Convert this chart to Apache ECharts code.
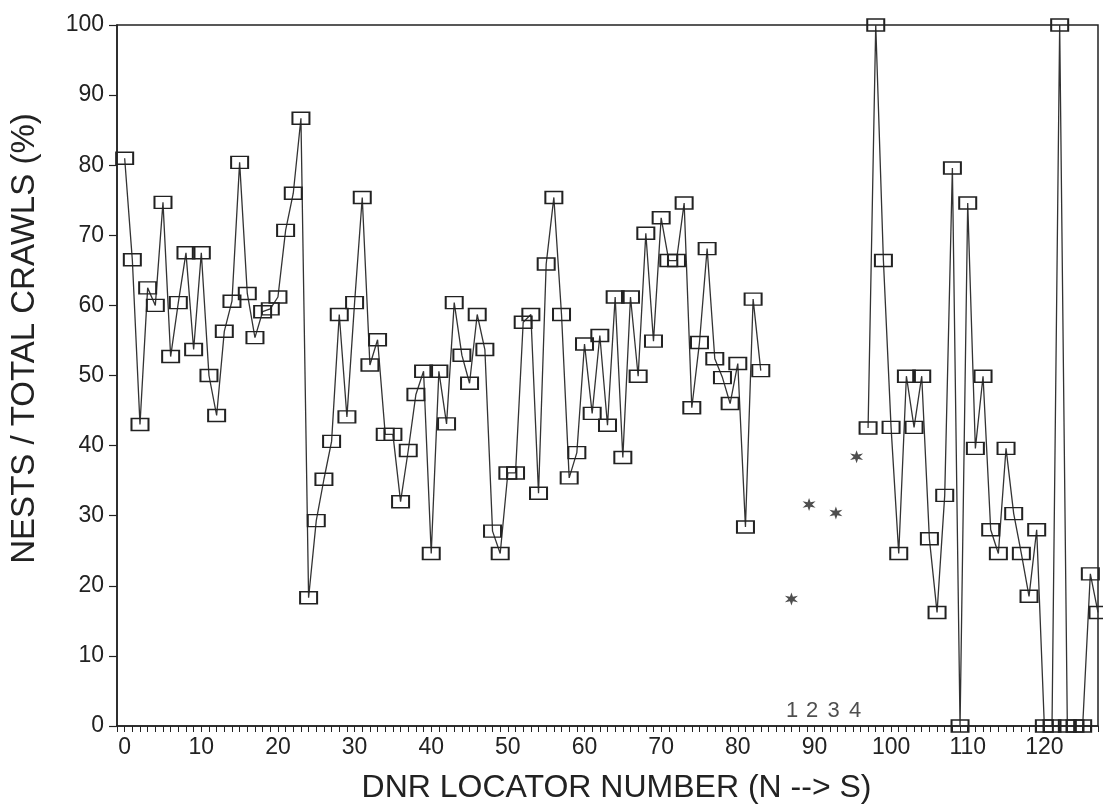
<!DOCTYPE html>
<html>
<head>
<meta charset="utf-8">
<script src="https://cdn.jsdelivr.net/npm/echarts@6/dist/echarts.min.js"></script>
<style>
html,body{margin:0;padding:0;background:#fff;}
#chart{width:1103px;height:809px;}
</style>
</head>
<body>
<div id="chart"></div>
<script>
// ---- data ----
const northLoc = [0,1,2,3,4,5,6,7,8,9,10,11,12,13,14,15,16,17,18,19,20,21,22,23,24,25,26,27,28,29,30,31,32,33,34,35,36,37,38,39,40,41,42,43,44,45,46,47,48,49,50,51,52,53,54,55,56,57,58,59,60,61,62,63,64,65,66,67,68,69,70,71,72,73,74,75,76,77,78,79,80,81,82,83];
const northPct = [81.0,66.5,43.0,62.5,60.0,74.7,52.7,60.4,67.5,53.7,
                  67.5,50.0,44.3,56.3,60.6,80.4,61.7,55.4,59.1,59.5,
                  61.2,70.7,76.0,86.7,18.3,29.3,35.2,40.6,58.7,44.1,
                  60.4,75.4,51.5,55.1,41.6,41.6,32.0,39.3,47.3,50.6,
                  24.6,50.6,43.1,60.4,52.9,48.9,58.7,53.7,27.8,24.6,
                  36.1,36.1,57.6,58.7,33.2,65.9,75.4,58.7,35.4,39.0,
                  54.5,44.6,55.7,42.9,61.2,38.3,61.2,49.9,70.3,54.9,
                  72.5,66.4,66.4,74.6,45.4,54.7,68.1,52.4,49.7,46.0,
                  51.7,28.4,60.9,50.7];
const southLoc = [97,98,99,100,101,102,103,104,105,106,107,108,109,110,111,112,113,114,115,116,117,118,119,120,121,122,123,124,125,126,127];
const southPct = [42.5,100,66.4,42.6,24.6,49.9,42.6,49.9,26.7,16.2,
                  32.9,79.6,0,74.6,39.6,49.9,28.0,24.6,39.6,30.3,
                  24.6,18.5,28.0,0,0,100,0,0,0,21.7,16.2];
const starLoc = [87, 89.3, 92.8, 95.5];
const starPct = [18.1, 31.6, 30.4, 38.4];
const noteLoc = [87.1, 89.7, 92.5, 95.3];
const noteText = ['1', '2', '3', '4'];
const xTickLabels = [0,10,20,30,40,50,60,70,80,90,100,110,120];
const yTickLabels = [0,10,20,30,40,50,60,70,80,90,100];
const xTitle = 'DNR LOCATOR NUMBER (N --> S)';
const yTitle = 'NESTS / TOTAL CRAWLS (%)';

// ---- chart ----
const ink = '#222';
const font = 'Liberation Sans, Arial, Helvetica, sans-serif';
const pairs = (xs, ys) => xs.map((x, i) => [x, ys[i]]);
const boxSym = 'rect';
const starSym = 'path://M0 -10L2 -3.46L8.66 -5L4 0L8.66 5L2 3.46L0 10L-2 3.46L-8.66 5L-4 0L-8.66 -5L-2 -3.46Z';

const lineStyle = {color: '#333', width: 1.3};
const boxStyle = {color: 'rgba(255,255,255,0)', borderColor: ink, borderWidth: 1.7};

const chart = echarts.init(document.getElementById('chart'), null, {renderer: 'canvas'});
chart.setOption({
  backgroundColor: '#fff',
  animation: false,
  grid: {left: 114, right: 5, top: 25, bottom: 82, show: true, borderColor: ink, borderWidth: 1.5, backgroundColor: 'transparent'},
  xAxis: {
    type: 'value', min: -1, max: 127, interval: 1,
    name: xTitle, nameLocation: 'middle', nameGap: 46,
    nameTextStyle: {fontFamily: font, fontSize: 32, color: ink, padding: [0, 0, 0, 18]},
    axisLine: {show: true, onZero: false, lineStyle: {color: ink, width: 1.5}},
    axisTick: {show: true, inside: false, length: 6, lineStyle: {color: ink, width: 1}},
    axisLabel: {
      margin: 10, fontFamily: font, fontSize: 23, color: ink,
      formatter: v => (xTickLabels.indexOf(v) >= 0 ? String(v) : '')
    },
    splitLine: {show: false}
  },
  yAxis: {
    type: 'value', min: 0, max: 100, interval: 10,
    name: yTitle, nameLocation: 'middle', nameGap: 76, nameRotate: 90,
    nameTextStyle: {fontFamily: font, fontSize: 33, color: ink, padding: [0, 0, 0, 74]},
    axisLine: {show: true, onZero: false, lineStyle: {color: ink, width: 1.5}},
    axisTick: {show: true, inside: false, length: 8, lineStyle: {color: ink, width: 1.2}},
    axisLabel: {
      margin: 13, fontFamily: font, fontSize: 23, color: ink,
      formatter: v => (yTickLabels.indexOf(v) >= 0 ? String(v) : '')
    },
    splitLine: {show: false}
  },
  series: [
    {
      type: 'line', data: pairs(northLoc, northPct),
      symbol: boxSym, symbolSize: [17, 12], showAllSymbol: true,
      lineStyle: lineStyle, itemStyle: boxStyle, clip: false, z: 3
    },
    {
      type: 'line', data: pairs(southLoc, southPct),
      symbol: boxSym, symbolSize: [17, 12], showAllSymbol: true,
      lineStyle: lineStyle, itemStyle: boxStyle, clip: false, z: 3
    },
    {
      type: 'scatter', data: pairs(starLoc, starPct),
      symbol: starSym, symbolSize: 13,
      itemStyle: {color: '#222'}, z: 4
    },
    {
      type: 'scatter',
      data: noteLoc.map((x, i) => ({value: [x, 0], label: {formatter: noteText[i]}})),
      symbolSize: 0,
      label: {show: true, position: 'top', distance: 4, fontFamily: font, fontSize: 22, color: ink},
      silent: true, z: 5
    }
  ]
});
</script>
</body>
</html>
